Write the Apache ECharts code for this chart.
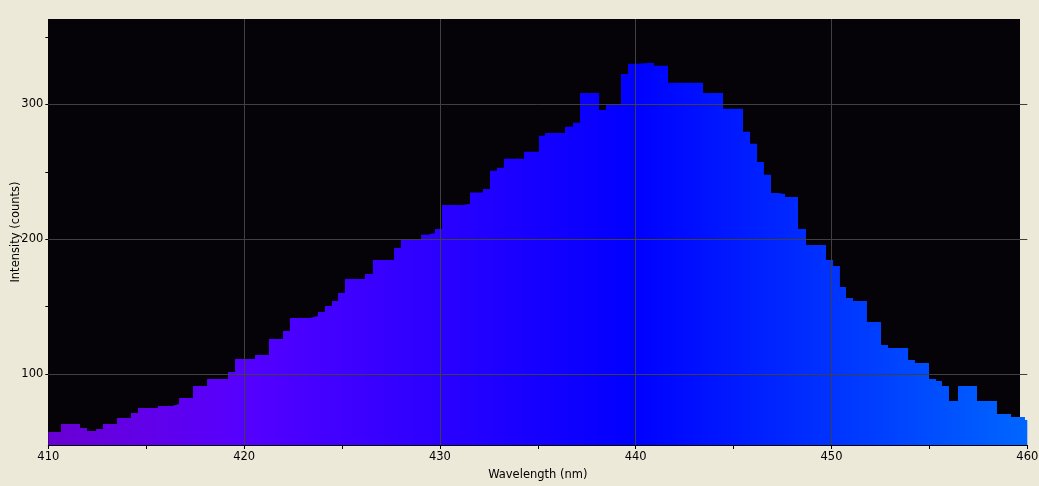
<!DOCTYPE html>
<html>
<head>
<meta charset="utf-8">
<script src="https://cdn.jsdelivr.net/npm/echarts@6/dist/echarts.min.js"></script>
<style>
  html, body { margin: 0; padding: 0; background: #ece9d8; }
  #chart { width: 1039px; height: 486px; }
</style>
</head>
<body>
<div id="chart"></div>
<script>
// Step edges (nm) and the count level of each step between consecutive edges
const wavelengthEdges = [
  410.00, 410.65, 411.62, 411.98, 412.44, 412.79, 413.51, 414.22, 414.58, 415.60,
  416.32, 416.68, 417.39, 418.11, 419.18, 419.54, 420.56, 421.27, 421.99, 422.34,
  423.37, 423.77, 424.13, 424.49, 424.80, 425.15, 426.17, 426.58, 427.66, 428.01,
  429.04, 429.39, 429.75, 430.11, 431.18, 431.54, 432.20, 432.56, 432.92, 433.27,
  434.30, 435.06, 435.37, 436.39, 436.80, 437.16, 438.13, 438.48, 439.25, 439.61,
  440.02, 440.93, 441.65, 443.44, 444.46, 445.48, 445.84, 446.20, 446.55, 446.91,
  447.27, 447.63, 448.29, 448.70, 449.72, 450.08, 450.43, 450.74, 451.10, 451.81,
  452.53, 452.89, 453.91, 454.26, 454.98, 455.34, 455.64, 456.00, 456.46, 457.43,
  458.45, 459.17, 459.88, 460.00
];
const counts = [
  57.0, 62.9, 59.9, 57.7, 59.2, 62.9, 67.3, 71.1, 74.8, 76.3,
  77.7, 82.2, 91.1, 96.3, 101.5, 111.1, 114.1, 126.0, 131.9, 141.6,
  143.0, 146.0, 150.5, 154.2, 160.1, 170.5, 174.2, 184.6, 193.5, 199.4,
  203.2, 204.6, 207.6, 225.4, 226.2, 234.7, 237.3, 250.7, 252.9, 259.6,
  264.8, 276.7, 278.8, 283.3, 286.3, 308.5, 295.9, 299.6, 322.6, 330.1,
  330.8, 328.6, 316.0, 308.5, 296.7, 279.6, 270.7, 257.3, 247.7, 234.3,
  233.5, 231.3, 207.6, 195.7, 184.6, 180.1, 164.6, 156.4, 154.2, 138.6,
  121.5, 119.3, 110.4, 108.2, 96.3, 94.8, 91.1, 80.0, 91.1, 80.0,
  70.3, 68.1, 65.9
];
const xTickLabels = [410, 420, 430, 440, 450, 460];
const yTickLabels = [100, 200, 300];
const yMinorTicks = [100, 150, 200, 250, 300, 350];

const stepData = [];
for (let i = 0; i < counts.length; i++) stepData.push([wavelengthEdges[i], counts[i]]);
stepData.push([wavelengthEdges[wavelengthEdges.length - 1], counts[counts.length - 1]]);

const FONT = 'DejaVu Sans';
const Y_MIN = 47.35, Y_MAX = 363.3;
const chart = echarts.init(document.getElementById('chart'), null, { renderer: 'canvas' });

chart.setOption({
  backgroundColor: '#ece9d8',
  animation: false,
  grid: { left: 48.3, right: 11.7, top: 19, bottom: 41, containLabel: false, outerBoundsMode: 'none' },
  graphic: [{
    type: 'rect', silent: true, z: -1,
    shape: { x: 48, y: 19, width: 972, height: 426 },
    style: { fill: '#050307' }
  }],
  xAxis: {
    type: 'value', min: 410, max: 460, interval: 10, z: 3,
    name: 'Wavelength (nm)', nameLocation: 'middle', nameGap: 24, nameMoveOverlap: false,
    nameTextStyle: { color: '#000', fontFamily: FONT, fontSize: 11.5 },
    axisLine: { show: true, lineStyle: { color: '#000', width: 1 } },
    axisTick: { show: true, length: 4, lineStyle: { color: '#000' } },
    minorTick: { show: true, splitNumber: 2, length: 4, lineStyle: { color: '#000' } },
    axisLabel: {
      margin: 6, color: '#000', fontFamily: FONT, fontSize: 11.5,
      formatter: v => (xTickLabels.indexOf(v) >= 0 ? String(v) : '')
    },
    splitLine: { show: true, showMinLine: false, showMaxLine: false, lineStyle: { color: '#404040', width: 1 } }
  },
  yAxis: [{
    type: 'value', min: Y_MIN, max: Y_MAX, splitNumber: 5, z: 3,
    name: 'Intensity (counts)', nameLocation: 'middle', nameGap: 26, nameRotate: 90, nameMoveOverlap: false,
    nameTextStyle: { color: '#000', fontFamily: FONT, fontSize: 11.5 },
    axisLine: { show: false },
    axisTick: { show: true, length: 3, customValues: yMinorTicks, lineStyle: { color: '#000' } },
    axisLabel: {
      margin: 5, color: '#000', fontFamily: FONT, fontSize: 11.5,
      customValues: yTickLabels,
      formatter: v => (yTickLabels.indexOf(Math.round(v)) >= 0 && Math.abs(v - Math.round(v)) < 1e-6 ? String(Math.round(v)) : '')
    },
    splitLine: { show: false }
  }, {
    type: 'value', min: Y_MIN, max: Y_MAX, splitNumber: 3, z: 3, position: 'left',
    axisLine: { show: false }, axisTick: { show: false }, axisLabel: { show: false },
    splitLine: { show: true, showMinLine: false, showMaxLine: false, lineStyle: { color: '#404040', width: 1 } }
  }],
  series: [{
    type: 'line', step: 'end', yAxisIndex: 0, z: 2,
    data: stepData,
    symbol: 'none', silent: true,
    lineStyle: { width: 0 },
    areaStyle: {
      origin: 'start', opacity: 1,
      color: new echarts.graphic.LinearGradient(0, 0, 1, 0, [
        { offset: 0.0, color: 'rgb(105,0,210)' },
        { offset: 0.1, color: 'rgb(97,0,233)' },
        { offset: 0.2, color: 'rgb(85,0,255)' },
        { offset: 0.6, color: 'rgb(0,0,255)' },
        { offset: 1.0, color: 'rgb(0,102,255)' }
      ])
    }
  }]
});
</script>
</body>
</html>
